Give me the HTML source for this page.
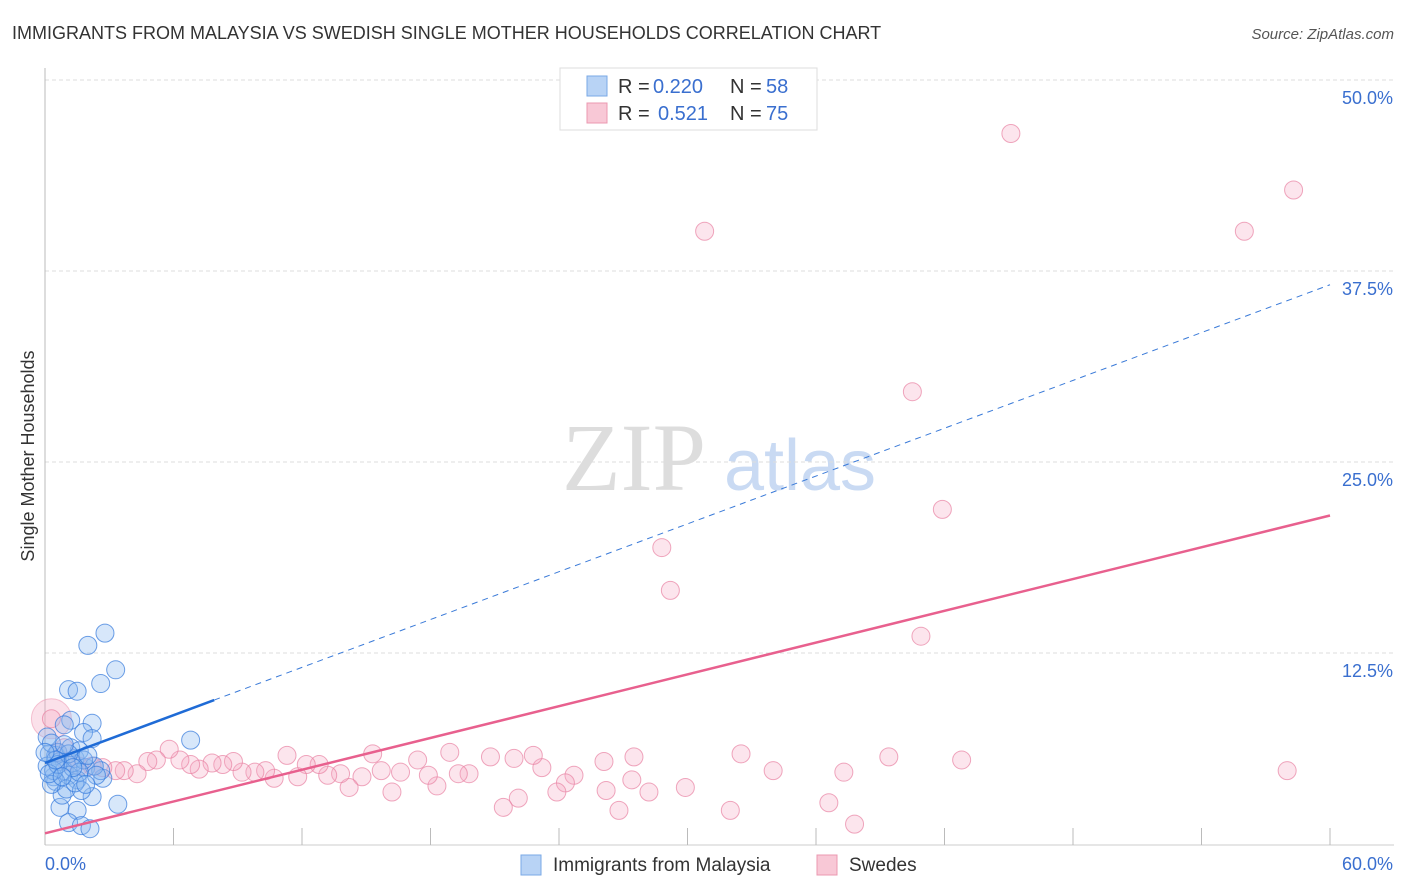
<!DOCTYPE html>
<html><head><meta charset="utf-8"><style>
body{margin:0;background:#fff;font-family:"Liberation Sans",sans-serif;}
svg{display:block}
</style></head><body>
<svg id="chart" width="1406" height="892">
<text x="12" y="39" font-size="18" fill="#333">IMMIGRANTS FROM MALAYSIA VS SWEDISH SINGLE MOTHER HOUSEHOLDS CORRELATION CHART</text>
<text x="1394" y="39" font-size="15" fill="#555" text-anchor="end" font-style="italic">Source: ZipAtlas.com</text>
<text transform="translate(34,456) rotate(-90)" font-size="18" fill="#333" text-anchor="middle">Single Mother Households</text>
<g><text x="634" y="490" font-size="96" fill="#ddd" font-family="Liberation Serif,serif" text-anchor="middle">ZIP</text><text x="800" y="490" font-size="72" fill="#c9daf3" text-anchor="middle">atlas</text></g>
<g id="grid"></g><g id="marks"></g>
<g>
<rect x="560" y="68" width="257" height="62" fill="#fff" stroke="#ddd"/>
<rect x="587" y="76" width="20" height="20" fill="#b8d3f5" stroke="#7aa8e6"/>
<text x="618" y="93" font-size="20" fill="#333">R =</text>
<text x="653" y="93" font-size="20" fill="#3a6fcf">0.220</text>
<text x="730" y="93" font-size="20" fill="#333">N =</text>
<text x="766" y="93" font-size="20" fill="#3a6fcf">58</text>
<rect x="587" y="103" width="20" height="20" fill="#f8c8d6" stroke="#eb98b0"/>
<text x="618" y="120" font-size="20" fill="#333">R =</text>
<text x="658" y="120" font-size="20" fill="#3a6fcf">0.521</text>
<text x="730" y="120" font-size="20" fill="#333">N =</text>
<text x="766" y="120" font-size="20" fill="#3a6fcf">75</text>
</g>
<g>
<rect x="521" y="855" width="20" height="20" fill="#b8d3f5" stroke="#7aa8e6"/>
<text x="553" y="871" font-size="19" fill="#333">Immigrants from Malaysia</text>
<rect x="817" y="855" width="20" height="20" fill="#f8c8d6" stroke="#eb98b0"/>
<text x="849" y="871" font-size="19" fill="#333">Swedes</text>
</g>
</svg>
<script>
const yTicks=[12.5,25,37.5,50];
const yTickLabels=["12.5%","25.0%","37.5%","50.0%"];
const xTickVals=[0,6,12,18,24,30,36,42,48,54,60];
const blueX=[2.8,2.0,3.3,2.6,1.1,1.5,1.2,0.9,2.2,1.8,2.2,6.8,2.7,3.4,0.7,1.5,2.2,1.1,1.7,2.1,0.4,0.2,0.5,0.1,0.7,0.9,1.3,0.6,1.4,1.1,1.9,0.5,0.8,1.5,1.2,0.1,0.3,2.6,2.3,1.6,1.0,1.7,0.4,1.8,0.3,1.4,2.0,0.6,1.1,0.2,0.9,1.6,2.4,1.3,0.5,0.8,1.9,0.0];
const blueY=[13.8,13.0,11.4,10.5,10.1,10.0,8.1,7.8,7.9,7.3,6.9,6.8,4.3,2.6,2.4,2.2,3.1,1.4,1.2,1.0,4.4,5.9,5.8,5.1,5.4,4.8,5.3,6.0,5.6,4.5,5.0,4.1,3.2,4.2,6.3,7.0,6.6,4.8,5.1,6.1,3.6,3.5,4.8,5.5,3.9,4.0,5.8,5.2,5.9,4.6,6.5,4.7,4.5,5.0,5.5,4.4,3.9,6.0];
const pinkX=[45.1,58.3,30.8,56.0,40.5,41.9,28.8,29.2,40.9,32.5,34.0,37.3,39.4,42.8,58.0,27.5,26.1,24.7,24.3,23.2,22.8,21.9,20.8,19.8,19.3,18.9,18.3,17.9,17.4,16.6,16.2,15.7,15.3,14.8,14.2,13.8,13.2,12.8,12.2,11.8,11.3,10.7,10.3,9.8,9.2,8.8,8.3,7.8,7.2,6.8,6.3,5.8,5.2,4.8,4.3,3.7,3.3,2.7,2.2,1.6,0.9,22.1,21.4,23.9,26.2,27.4,28.2,29.9,32.0,36.6,37.8,26.8,1.0,0.6,0.3];
const pinkY=[46.5,42.8,40.1,40.1,29.6,21.9,19.4,16.6,13.6,5.9,4.8,4.7,5.7,5.5,4.8,5.7,5.4,4.5,4.0,5.0,5.8,5.6,5.7,4.6,4.6,6.0,3.8,4.5,5.5,4.7,3.4,4.8,5.9,4.4,3.7,4.6,4.5,5.2,5.2,4.4,5.8,4.3,4.8,4.7,4.7,5.4,5.2,5.3,4.9,5.2,5.5,6.2,5.5,5.4,4.6,4.8,4.8,5.0,5.1,5.1,6.3,3.0,2.4,3.4,3.5,4.2,3.4,3.7,2.2,2.7,1.3,2.2,5.4,6.0,8.2];
const pinkBig=[0.3,8.2];
const blueLine=[5.3,36.6], blueSolidEnd=7.9;
const pinkLine=[0.7,21.5];
const X=v=>45+v*(1285/60), Y=v=>844-v*(764/50);
const NS="http://www.w3.org/2000/svg";
function mk(t,a,p){const e=document.createElementNS(NS,t);for(const k in a)e.setAttribute(k,a[k]);p.appendChild(e);return e;}
const g=document.getElementById('grid'), m=document.getElementById('marks');
yTicks.forEach((v,i)=>{
 const l=mk('line',{x1:45,x2:1394,y1:Y(v),y2:Y(v),stroke:'#ddd','stroke-dasharray':'4,3'},g);
 
 
 const t=mk('text',{x:1393,y:Y(v)+24,'font-size':18,fill:'#3a6fcf','text-anchor':'end'},g);
 t.textContent=yTickLabels[i];
 
 
});
mk('line',{x1:45,x2:45,y1:68,y2:845,stroke:'#bbb'},g);
mk('line',{x1:45,x2:1394,y1:845,y2:845,stroke:'#ccc'},g);
xTickVals.forEach(v=>{const l=mk('line',{x1:X(v),x2:X(v),y1:828,y2:845,stroke:'#bbb'},g);
 
 });
const xl=mk('text',{x:45,y:870,'font-size':18,fill:'#3a6fcf'},g);xl.textContent='0.0%';


const xr=mk('text',{x:1393,y:870,'font-size':18,fill:'#3a6fcf','text-anchor':'end'},g);xr.textContent='60.0%';


const bp=mk('circle',{cx:X(pinkBig[0]),cy:Y(pinkBig[1]),r:20,fill:'rgba(244,170,195,0.35)',stroke:'rgba(235,140,170,0.5)'},m);


pinkX.forEach((x,i)=>{const c=mk('circle',{cx:X(x),cy:Y(pinkY[i]),r:9,fill:'rgba(244,170,195,0.3)',stroke:'rgba(232,130,162,0.7)'},m);
 
 });
blueX.forEach((x,i)=>{const c=mk('circle',{cx:X(x),cy:Y(blueY[i]),r:9,fill:'rgba(140,185,240,0.35)',stroke:'rgba(50,120,220,0.7)'},m);
 
 });
const by=x=>blueLine[0]+(blueLine[1]-blueLine[0])*x/60;
const bd=mk('line',{x1:X(blueSolidEnd),y1:Y(by(blueSolidEnd)),x2:X(60),y2:Y(by(60)),stroke:'#3a7ad8','stroke-width':1,'stroke-dasharray':'6,5'},m);


const bs=mk('line',{x1:X(0),y1:Y(by(0)),x2:X(blueSolidEnd),y2:Y(by(blueSolidEnd)),stroke:'#1f6bd6','stroke-width':2.5},m);


const pl=mk('line',{x1:X(0),y1:Y(pinkLine[0]),x2:X(60),y2:Y(pinkLine[1]),stroke:'#e8608e','stroke-width':2.5},m);


</script>
</body></html>
